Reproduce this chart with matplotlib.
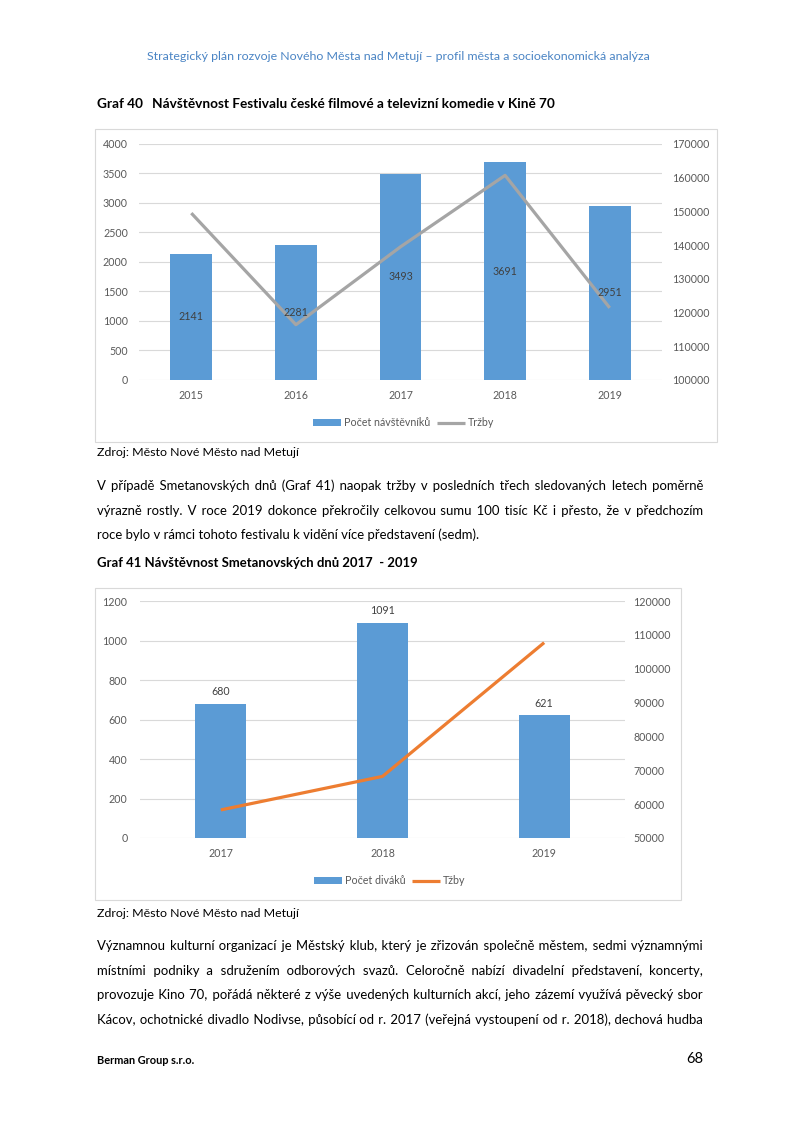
import matplotlib
matplotlib.use("Agg")
import matplotlib.pyplot as plt
from matplotlib.patches import Rectangle

# ------------------------------------------------------------------
# Data
# ------------------------------------------------------------------
fest_years = ["2015", "2016", "2017", "2018", "2019"]
fest_visitors = [2141, 2281, 3493, 3691, 2951]
fest_revenue = [149500, 116400, 139500, 160700, 121400]

smet_years = ["2017", "2018", "2019"]
smet_viewers = [680, 1091, 621]
smet_revenue = [58300, 68200, 107700]

header_text = "Strategický plán rozvoje Nového Města nad Metují – profil města a socioekonomická analýza"
graf40_no = "Graf 40"
graf40_title = "Návštěvnost Festivalu české filmové a televizní komedie v Kině 70"
graf41_title = "Graf 41 Návštěvnost Smetanovských dnů 2017  - 2019"
source_text = "Zdroj: Město Nové Město nad Metují"

para1 = [
    "V případě Smetanovských dnů (Graf 41) naopak tržby v posledních třech sledovaných letech poměrně",
    "výrazně rostly. V roce 2019 dokonce překročily celkovou sumu 100 tisíc Kč i přesto, že v předchozím",
    "roce bylo v rámci tohoto festivalu k vidění více představení (sedm).",
]
para2 = [
    "Významnou kulturní organizací je Městský klub, který je zřizován společně městem, sedmi významnými",
    "místními podniky a sdružením odborových svazů. Celoročně nabízí divadelní představení, koncerty,",
    "provozuje Kino 70, pořádá některé z výše uvedených kulturních akcí, jeho zázemí využívá pěvecký sbor",
    "Kácov, ochotnické divadlo Nodivse, působící od r. 2017 (veřejná vystoupení od r. 2018), dechová hudba",
]

# ------------------------------------------------------------------
# Styles
# ------------------------------------------------------------------
BAR = "#5B9BD5"
GRAY_LINE = "#A5A5A5"
ORANGE = "#ED7D31"
TICK = "#595959"
GRID = "#D9D9D9"
LABEL = "#404040"
HEADER_BLUE = "#4A84C4"
TICK_SIZE = 7.7
HAIR = "\u200a"

plt.rcParams["font.family"] = ["Lato", "DejaVu Sans"]

W, H = 800, 1132
fig = plt.figure(figsize=(8, 11.32), dpi=100)
fig.patch.set_facecolor("white")
renderer = fig.canvas.get_renderer()


def fx(x):
    return x / W


def fy(y):
    return 1 - y / H


def text_width(s, size, weight="normal"):
    t = fig.text(0, 0, s, fontsize=size, fontweight=weight)
    w = t.get_window_extent(renderer).width
    t.remove()
    return w


def fit_size(s, x0, x1, weight="normal"):
    return 10 * (x1 - x0) / text_width(s, 10, weight)


def put(s, x, y, size, weight="normal", color="black", ha="left"):
    fig.text(fx(x), fy(y), s, fontsize=size, fontweight=weight,
             color=color, ha=ha, va="baseline")


def build_justified(words, counts):
    out = words[0]
    for w, m in zip(words[1:], counts):
        out += " " + HAIR * m + w
    return out


def justify(line, x0, x1, y, size):
    # one text per line, gaps widened with hair spaces so the baseline stays common
    words = line.split(" ")
    n = len(words) - 1
    target = x1 - x0
    natural = text_width(line, size)
    hair = (text_width("a" + HAIR * 10 + "a", size) - text_width("aa", size)) / 10
    for _ in range(2):
        per_gap = (target - natural) / n / hair
        counts, done = [], 0
        for i in range(1, n + 1):
            m = max(0, round(i * per_gap) - done)
            counts.append(m)
            done += m
        s = build_justified(words, counts)
        got = text_width(s, size)
        if done > 0:
            hair = (got - natural) / done
    put(s, x0, y, size)


def paragraph(lines, ys, justify_last, size, x0=97, x1=703):
    for i, (line, y) in enumerate(zip(lines, ys)):
        if i < len(lines) - 1 or justify_last:
            justify(line, x0, x1, y, size)
        else:
            put(line, x0, y, size)


def frame(x0, y0, x1, y1):
    fig.add_artist(Rectangle((fx(x0), fy(y1)), (x1 - x0) / W, (y1 - y0) / H,
                             transform=fig.transFigure, fill=False,
                             edgecolor=GRID, lw=0.8))


def style_axes(ax, axr, left_pad, right_pad):
    for a in (ax, axr):
        for sp in a.spines.values():
            sp.set_visible(False)
        a.tick_params(length=0, labelsize=TICK_SIZE, labelcolor=TICK)
    ax.tick_params(axis="y", pad=left_pad)
    ax.tick_params(axis="x", pad=7)
    axr.tick_params(axis="y", pad=right_pad)
    ax.yaxis.grid(True, color=GRID, lw=0.8)
    ax.set_axisbelow(True)


# ------------------------------------------------------------------
# Page text
# ------------------------------------------------------------------
put(header_text, 147, 60, fit_size(header_text, 147, 653), color=HEADER_BLUE)

title_size = fit_size(graf40_title, 152, 557, "bold")
put(graf40_no, 97, 108, title_size, "bold")
put(graf40_title, 152, 108, title_size, "bold")

src_size = fit_size(source_text, 97, 300)
put(source_text, 97, 456, src_size)
put(graf41_title, 97, 567, fit_size(graf41_title, 97, 418, "bold"), "bold")
put(source_text, 97, 917, src_size)

body_size = min(10 * 606 * 0.985 / text_width(l, 10)
                for l in para1[:-1] + para2)
paragraph(para1, [490, 515, 539], False, body_size)
paragraph(para2, [950, 975, 999, 1024], True, body_size)

put("Berman Group s.r.o.", 97, 1064, fit_size("Berman Group s.r.o.", 97, 195, "bold"), "bold")
put("68", 703, 1063, 10.5, ha="right")

# ------------------------------------------------------------------
# Graf 40
# ------------------------------------------------------------------
frame(95, 129, 717, 442)
ax1 = fig.add_axes([fx(139), fy(380), (662 - 139) / W, (380 - 144) / H])
ax1r = ax1.twinx()
x1 = range(len(fest_years))
bars1 = ax1.bar(x1, fest_visitors, width=0.4, color=BAR, zorder=2)
line1, = ax1r.plot(x1, fest_revenue, color=GRAY_LINE, lw=2.3,
                   solid_joinstyle="round", solid_capstyle="butt")
ax1.set_xlim(-0.5, len(fest_years) - 0.5)
ax1.set_ylim(0, 4000)
ax1.set_yticks(range(0, 4001, 500))
ax1.set_xticks(list(x1))
ax1.set_xticklabels(fest_years)
r_ticks1 = list(range(100000, 170001, 10000))
ax1r.set_ylim(100000, 170000)
ax1r.set_yticks(r_ticks1)
ax1r.set_yticklabels([str(t) for t in r_ticks1])
style_axes(ax1, ax1r, 8, 7)
# labels sit on the twin axes so they are drawn above the line, like Excel does
for i, v in zip(x1, fest_visitors):
    ax1r.text(i, v / 2, str(v), transform=ax1.transData, ha="center",
              va="center", fontsize=TICK_SIZE, color=LABEL)
fig.legend([bars1, line1], ["Počet návštěvníků", "Tržby"], loc="center",
           bbox_to_anchor=(fx(404), fy(423)), ncol=2, frameon=False,
           fontsize=TICK_SIZE, labelcolor=TICK, handlelength=2.6,
           handleheight=0.65, handletextpad=0.3, columnspacing=0.6,
           borderaxespad=0)

# ------------------------------------------------------------------
# Graf 41
# ------------------------------------------------------------------
frame(95, 588, 681, 900)
ax2 = fig.add_axes([fx(140), fy(838), (625 - 140) / W, (838 - 601) / H])
ax2r = ax2.twinx()
x2 = range(len(smet_years))
bars2 = ax2.bar(x2, smet_viewers, width=0.315, color=BAR, zorder=2)
line2, = ax2r.plot(x2, smet_revenue, color=ORANGE, lw=2.3,
                   solid_joinstyle="round", solid_capstyle="butt")
ax2.set_xlim(-0.5, len(smet_years) - 0.5)
ax2.set_ylim(0, 1200)
ax2.set_yticks(range(0, 1201, 200))
ax2.set_xticks(list(x2))
ax2.set_xticklabels(smet_years)
r_ticks2 = list(range(50000, 120001, 10000))
ax2r.set_ylim(50000, 120000)
ax2r.set_yticks(r_ticks2)
ax2r.set_yticklabels([str(t) for t in r_ticks2])
style_axes(ax2, ax2r, 9, 6)
ax2.bar_label(bars2, padding=4.5, fontsize=TICK_SIZE, color=LABEL)
fig.legend([bars2, line2], ["Počet diváků", "Tžby"], loc="center",
           bbox_to_anchor=(fx(390), fy(881)), ncol=2, frameon=False,
           fontsize=TICK_SIZE, labelcolor=TICK, handlelength=2.6,
           handleheight=0.65, handletextpad=0.3, columnspacing=0.6,
           borderaxespad=0)

fig.savefig("out.png", dpi=100, facecolor="white")
